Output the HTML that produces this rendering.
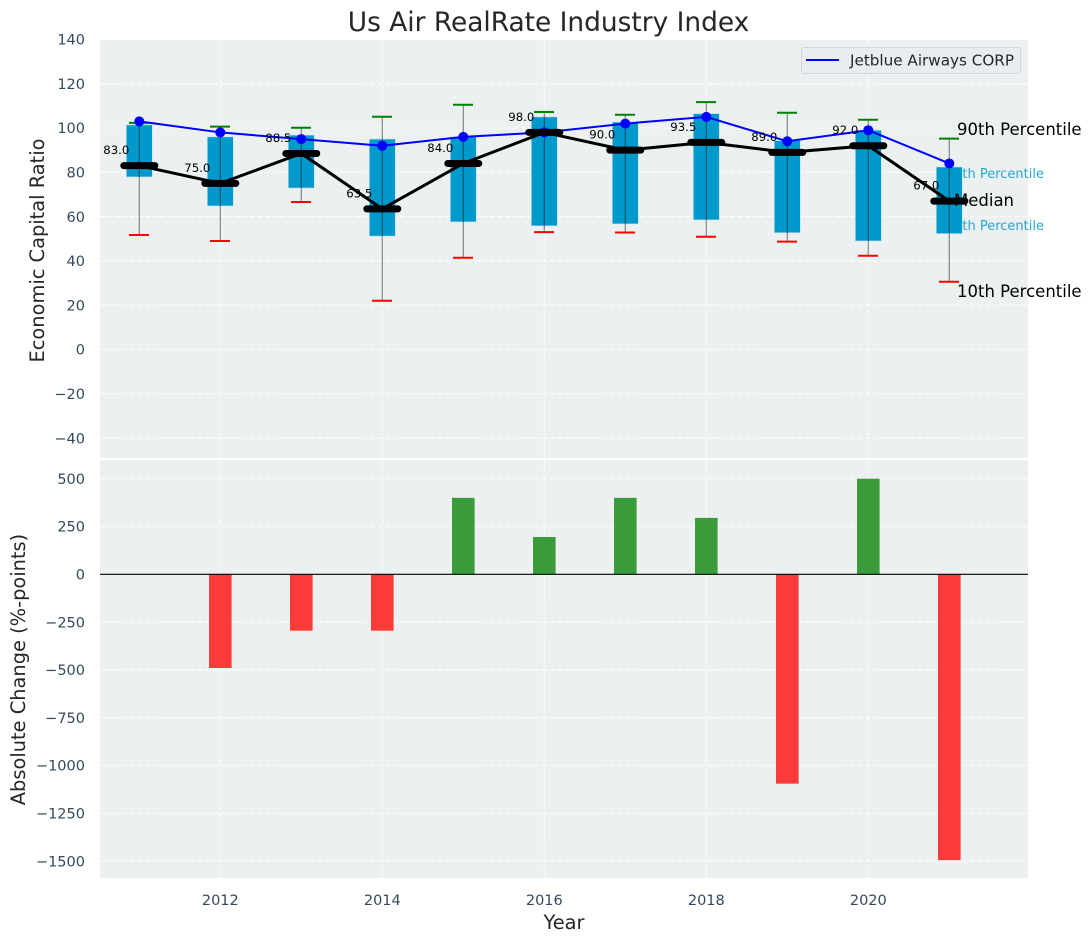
<!DOCTYPE html>
<html lang="en">
<head>
<meta charset="utf-8">
<title>Us Air RealRate Industry Index</title>
<style>
html,body{margin:0;padding:0;background:#fff;}
svg{display:block;font-family:"DejaVu Sans","Liberation Sans",sans-serif;}
.tick{font-size:14.5px;fill:#34495e;}
.axis-title{font-size:19.4px;fill:#262626;}
.val{font-size:11.7px;fill:#000;}
.pct{font-size:16.5px;fill:#000;}
.pct-box{font-size:13px;fill:#0099cc;fill-opacity:.85;}
</style>
</head>
<body>
<svg id="chart" xmlns="http://www.w3.org/2000/svg" width="1092" height="942" viewBox="0 0 1092 942">
  <rect x="100" y="40" width="928" height="418" fill="#ecf0f1"/>
  <rect x="100" y="460" width="928" height="418" fill="#ecf0f1"/>
  <g id="grid"></g>
  <g id="ticks"></g>
  <g id="percentile-labels">
    <text class="pct-box" x="1044" y="178" text-anchor="end">75th Percentile</text>
    <text class="pct-box" x="1044" y="230" text-anchor="end">25th Percentile</text>
  </g>
  <g id="top-marks"></g>
  <g id="percentile-labels-top">
    <text class="pct" x="957" y="135">90th Percentile</text>
    <text class="pct" x="954" y="206">Median</text>
    <text class="pct" x="957" y="297">10th Percentile</text>
  </g>
  <g id="bottom-marks"></g>
  <text x="548.5" y="31" text-anchor="middle" font-size="26.4" fill="#262626">Us Air RealRate Industry Index</text>
  <text class="axis-title" text-anchor="middle" transform="translate(44,250.5) rotate(-90)">Economic Capital Ratio</text>
  <text class="axis-title" text-anchor="middle" transform="translate(25,669.5) rotate(-90)">Absolute Change (%-points)</text>
  <text class="axis-title" x="564" y="929" text-anchor="middle">Year</text>
  <g>
    <rect x="801.5" y="47.5" width="219" height="26" rx="2.5" fill="#e9ecf1" stroke="#d3d6da"/>
    <line x1="806" x2="839" y1="60" y2="60" stroke="#0000ff" stroke-width="2"/>
    <text x="850" y="65.5" font-size="15.2" fill="#262626">Jetblue Airways CORP</text>
  </g>
</svg>
<script>
const years = [2011, 2012, 2013, 2014, 2015, 2016, 2017, 2018, 2019, 2020, 2021];
const p90 = [102.3, 100.6, 100.1, 105.1, 110.5, 107.2, 106, 111.7, 106.9, 103.7, 95.2];
const p75 = [101.4, 96, 96.8, 95, 96, 105, 102.7, 106.5, 94.3, 99, 82.4];
const medians = [83, 75, 88.5, 63.5, 84, 98, 90, 93.5, 89, 92, 67];
const p25 = [77.9, 64.8, 72.9, 51.2, 57.6, 55.8, 56.7, 58.5, 52.7, 49, 52.3];
const p10 = [51.7, 49, 66.6, 22, 41.4, 53, 52.8, 50.9, 48.7, 42.3, 30.6];
const company = [103, 98, 95, 92, 96, 98, 102, 105, 94, 99, 84];
const changes = [0, -490, -295, -295, 400, 195, 400, 295, -1095, 500, -1495];
const xTicks = [2012, 2014, 2016, 2018, 2020];
const topTicks = [140, 120, 100, 80, 60, 40, 20, 0, -20, -40];
const bottomTicks = [500, 250, 0, -250, -500, -750, -1000, -1250, -1500];

const SVG_NS = 'http://www.w3.org/2000/svg';
function xScale(v) { return 139.3 + (v - 2011) * 81; }
function yTop(v) { return 349.5 - v * 2.215; }
function yBottom(v) { return 574.3 - v * 0.1912; }
function make(parent, tag, attrs, name) {
  const el = document.createElementNS(SVG_NS, tag);
  for (const k in attrs) el.setAttribute(k, attrs[k]);
  
  
  parent.appendChild(el);
  return el;
}
function fmt(v) { return String(v).replace('-', '\u2212'); }

const gridG = document.getElementById('grid');
const tickG = document.getElementById('ticks');
const topG = document.getElementById('top-marks');
const botG = document.getElementById('bottom-marks');
const gridStyle = { stroke: '#ffffff', 'stroke-opacity': 0.85, 'stroke-width': 1.1, 'stroke-dasharray': '5 2.5' };

topTicks.forEach(function (t) {
  const y = yTop(t);
  make(gridG, 'line', Object.assign({ x1: 100, x2: 1028, y1: y, y2: y }, gridStyle), 'top-grid-line');
  const lbl = make(tickG, 'text', { class: 'tick', x: 85, y: y + 5.2, 'text-anchor': 'end' }, 'top-y-tick');
  lbl.textContent = fmt(t);
});
bottomTicks.forEach(function (t) {
  const y = yBottom(t);
  make(gridG, 'line', Object.assign({ x1: 100, x2: 1028, y1: y, y2: y }, gridStyle), 'bottom-grid-line');
  const lbl = make(tickG, 'text', { class: 'tick', x: 85, y: y + 5.2, 'text-anchor': 'end' }, 'bottom-y-tick');
  lbl.textContent = fmt(t);
});
xTicks.forEach(function (t) {
  const x = xScale(t);
  make(gridG, 'line', Object.assign({ x1: x, x2: x, y1: 40, y2: 458 }, gridStyle), 'top-vertical-grid-line');
  make(gridG, 'line', Object.assign({ x1: x, x2: x, y1: 460, y2: 878 }, gridStyle), 'bottom-vertical-grid-line');
  const lbl = make(tickG, 'text', { class: 'tick', x: x, y: 905, 'text-anchor': 'middle' }, 'x-tick');
  lbl.textContent = String(t);
});

years.forEach(function (yr, i) {
  const x = xScale(yr);
  const top = yTop(p75[i]);
  make(topG, 'rect', { x: x - 13, y: top, width: 26, height: yTop(p25[i]) - top, fill: '#0099cc', stroke: '#bfe3ef', 'stroke-width': 0.6 }, 'iqr-box');
});

years.forEach(function (yr, i) {
  const x = xScale(yr);
  make(topG, 'line', { x1: x, x2: x, y1: yTop(p90[i]), y2: yTop(p10[i]), stroke: '#000', 'stroke-opacity': 0.45, 'stroke-width': 1.2 }, 'whisker');
  make(topG, 'line', { x1: x - 10.3, x2: x + 9.7, y1: yTop(p90[i]), y2: yTop(p90[i]), stroke: '#008000', 'stroke-width': 2 }, 'p90-cap');
  make(topG, 'line', { x1: x - 10.3, x2: x + 9.7, y1: yTop(p10[i]), y2: yTop(p10[i]), stroke: '#ff0000', 'stroke-width': 2 }, 'p10-cap');
});

function linePoints(values) {
  return years.map(function (yr, i) { return xScale(yr) + ',' + yTop(values[i]); }).join(' ');
}
make(topG, 'polyline', { points: linePoints(company), fill: 'none', stroke: '#0000ff', 'stroke-width': 2 }, 'company-line');
years.forEach(function (yr, i) {
  make(topG, 'circle', { cx: xScale(yr), cy: yTop(company[i]), r: 5, fill: '#0000ff' }, 'company-point');
});
make(topG, 'polyline', { points: linePoints(medians), fill: 'none', stroke: '#000', 'stroke-width': 3 }, 'median-line');

years.forEach(function (yr, i) {
  const x = xScale(yr);
  make(topG, 'line', { x1: x - 15.5, x2: x + 15.5, y1: yTop(medians[i]), y2: yTop(medians[i]), stroke: '#000', 'stroke-width': 7, 'stroke-linecap': 'round' }, 'median-marker');
  const lbl = make(topG, 'text', { class: 'val', x: x - 10, y: yTop(medians[i]) - 11.5, 'text-anchor': 'end' }, 'median-value');
  lbl.textContent = medians[i].toFixed(1);
});

years.forEach(function (yr, i) {
  const v = changes[i];
  if (v === 0) return;
  const y0 = yBottom(0);
  const y1 = yBottom(v);
  make(botG, 'rect', { x: xScale(yr) - 11.3, y: Math.min(y0, y1), width: 22.6, height: Math.abs(y1 - y0), fill: v > 0 ? '#008000' : '#ff0000', 'fill-opacity': 0.76 }, 'change-bar');
});
make(botG, 'line', { x1: 100, x2: 1028, y1: yBottom(0), y2: yBottom(0), stroke: '#000', 'stroke-width': 1.2 }, 'zero-line');
</script>
</body>
</html>
